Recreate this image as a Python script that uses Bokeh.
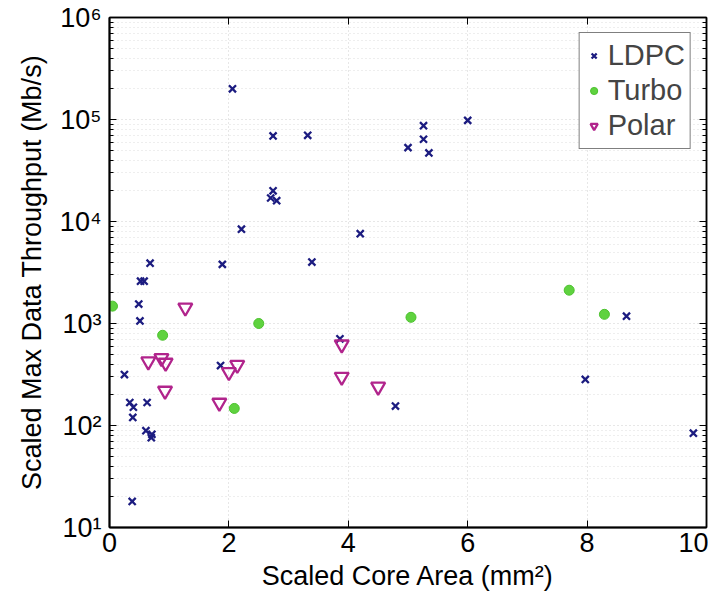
from bokeh.plotting import figure
from bokeh.models import (Range1d, LinearAxis, LogAxis, FixedTicker,
                          CustomJSTickFormatter, Legend, LegendItem)
from bokeh.embed import file_html
from bokeh.resources import INLINE

# ---------------- data ----------------
ldpc_area = [2.06, 2.74, 3.32, 6.0, 5.26, 5.26, 5.0, 5.35, 2.74, 2.70, 2.80, 2.21, 4.2,
             0.68, 1.89, 3.39, 0.52, 0.58, 0.49, 0.51, 0.25, 3.86, 1.86, 0.34, 0.40,
             0.39, 0.63, 0.61, 0.71, 0.70, 0.38, 4.79, 8.66, 7.97, 9.78]
ldpc_tp = [2.0e5, 6.9e4, 7.0e4, 9.8e4, 8.7e4, 6.4e4, 5.3e4, 4.7e4, 2.0e4, 1.7e4, 1.6e4,
           8.4e3, 7.6e3, 3.9e3, 3.8e3, 4.0e3, 2.6e3, 2.6e3, 1.55e3, 1.06e3, 316, 708,
           387, 168, 151, 120, 168, 89, 82, 76, 18, 155, 1180, 283, 84]

turbo_area = [0.05, 0.89, 2.50, 2.09, 5.05, 7.70, 8.29]
turbo_tp = [1480, 767, 1000, 147, 1150, 2120, 1230]

polar_area = [1.27, 0.65, 0.87, 0.94, 0.93, 1.84, 2.0, 2.14, 3.89, 3.89, 4.5]
polar_tp = [1430, 424, 457, 412, 219, 167, 333, 393, 622, 300, 240]

x_ticks = [0, 2, 4, 6, 8, 10]
y_ticks = [1e1, 1e2, 1e3, 1e4, 1e5, 1e6]
y_tick_labels = ["10\u00b9", "10\u00b2", "10\u00b3", "10\u2074", "10\u2075", "10\u2076"]
series_names = ["LDPC", "Turbo", "Polar"]

FONT = "Liberation Sans"
minor_y = [m * 10 ** e for e in range(1, 6) for m in range(2, 10)]

p = figure(frame_width=597, frame_height=510, y_axis_type="log",
           x_range=Range1d(0, 10), y_range=Range1d(10, 1e6),
           output_backend="svg", toolbar_location=None,
           min_border_left=109, min_border_top=17, min_border_right=2, min_border_bottom=60,
           background_fill_color="white", border_fill_color="white")
p.outline_line_color = "black"
p.outline_line_width = 1.5

fmt = CustomJSTickFormatter(args=dict(labels=y_tick_labels), code="""
const e = Math.round(Math.log10(tick));
return labels[e - 1] ?? ("10^" + e);
""")

xax = p.xaxis[0]
xax.ticker = FixedTicker(ticks=x_ticks)
xax.axis_label = "Scaled Core Area (mm\u00b2)"
yax = p.yaxis[0]
yax.ticker = FixedTicker(ticks=y_ticks, minor_ticks=minor_y)
yax.formatter = fmt
yax.axis_label = "Scaled Max Data Throughput (Mb/s)"

for ax in (xax, yax):
    ax.axis_line_width = 2
    ax.axis_line_color = "black"
    ax.major_tick_in = 7
    ax.major_tick_out = 0
    ax.minor_tick_in = 4
    ax.minor_tick_out = 0
    ax.major_tick_line_color = "black"
    ax.minor_tick_line_color = "black"
    ax.major_label_text_font = FONT
    ax.major_label_text_font_size = "27px"
    ax.major_label_text_color = "black"
    ax.axis_label_text_font = FONT
    ax.axis_label_text_font_size = "27px"
    ax.axis_label_text_font_style = "normal"
    ax.axis_label_text_color = "black"
xax.major_label_standoff = 5
xax.axis_label_standoff = 6
yax.major_label_standoff = 8
yax.axis_label_standoff = 10

top = LinearAxis(ticker=FixedTicker(ticks=x_ticks), major_label_text_font_size="2px",
                 major_label_text_alpha=0, major_label_standoff=0,
                 major_tick_in=7, major_tick_out=0, axis_line_width=1.5)
right = LogAxis(ticker=FixedTicker(ticks=y_ticks, minor_ticks=minor_y),
                major_label_text_font_size="2px", major_label_text_alpha=0,
                major_label_standoff=0, major_tick_in=7, major_tick_out=0,
                minor_tick_in=4, minor_tick_out=0, axis_line_width=1.5)
p.add_layout(top, "above")
p.add_layout(right, "right")

for g in (p.xgrid[0], p.ygrid[0]):
    g.grid_line_color = "#cfcfcf"
    g.grid_line_dash = "1 3"
    g.grid_line_width = 1
p.ygrid[0].ticker = FixedTicker(ticks=y_ticks, minor_ticks=minor_y)
p.xgrid[0].ticker = FixedTicker(ticks=x_ticks)
p.ygrid[0].minor_grid_line_color = "#dcdcdc"
p.ygrid[0].minor_grid_line_dash = "1 3"

r1 = p.scatter(ldpc_area, ldpc_tp, marker="x", size=10, line_width=2.3,
               line_color="#1c1c80")
r2 = p.scatter(turbo_area, turbo_tp, marker="circle", size=10,
               fill_color="#5fd23f", line_color="#4cc22e", line_width=1)
r3 = p.scatter(polar_area, polar_tp, marker="inverted_triangle", size=14,
               fill_color=None, line_color="#b1248c", line_width=2.3)

legend = Legend(items=[LegendItem(label=series_names[0], renderers=[r1]),
                       LegendItem(label=series_names[1], renderers=[r2]),
                       LegendItem(label=series_names[2], renderers=[r3])],
                location="top_right", margin=15, padding=5, spacing=0,
                label_text_font=FONT, label_text_font_size="29px",
                label_height=35, glyph_width=18, glyph_height=35, label_standoff=5,
                border_line_color="black", border_line_width=1.5,
                background_fill_alpha=1)
p.add_layout(legend, "center")

open("out.html", "w").write(file_html(p, INLINE))
